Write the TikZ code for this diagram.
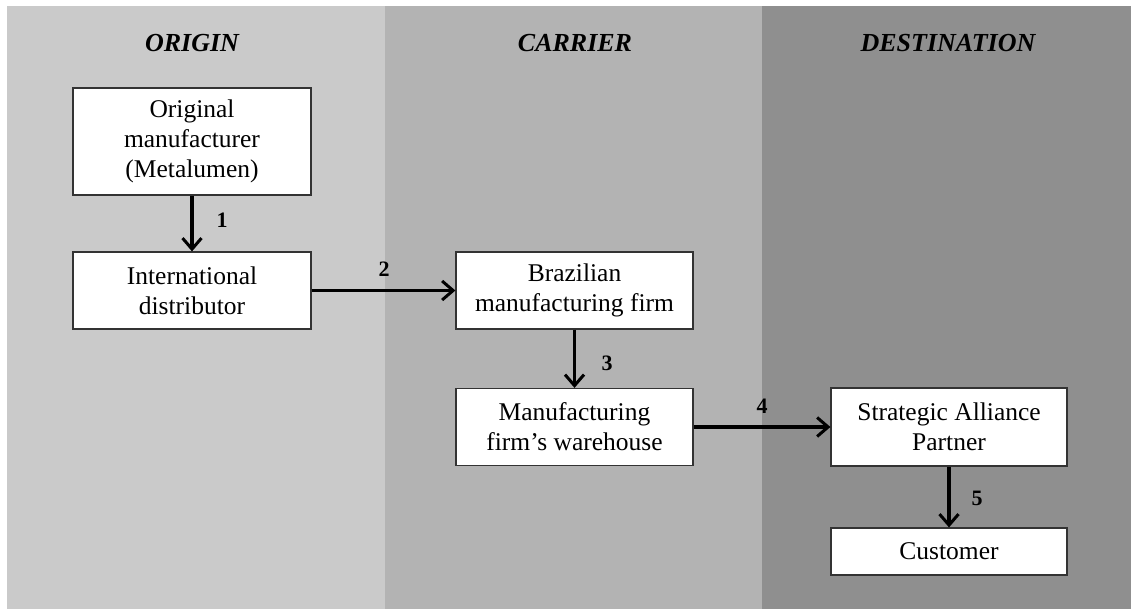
\documentclass[tikz,border=0pt]{standalone}
\usepackage{fontspec}
\setmainfont{Liberation Serif}
\usetikzlibrary{arrows.meta}
\definecolor{orig}{HTML}{CACACA}
\definecolor{carr}{HTML}{B3B3B3}
\definecolor{dest}{HTML}{8F8F8F}
\definecolor{edge}{HTML}{333333}
\begin{document}
\begin{tikzpicture}[x=1pt,y=-1pt,
  box/.style={draw=edge,line width=1.2pt,fill=white,align=center,inner sep=0pt,
    font=\fontsize{25.5}{30}\selectfont},
  head/.style={font=\fontsize{26}{30}\selectfont\bfseries\itshape},
  num/.style={font=\fontsize{22}{26}\selectfont\bfseries},
  flow/.style={line width=3.4pt,-{Straight Barb[length=11pt,width=19pt,line width=3pt]}}]
\useasboundingbox (0,0) rectangle (1131,609);
\fill[white] (0,0) rectangle (1131,609);
\fill[orig] (7,6) rectangle (385,609);
\fill[carr] (385,6) rectangle (762,609);
\fill[dest] (762,6) rectangle (1131,609);
\node[head] (h1) at (192,43) {ORIGIN};
\node[head] (h2) at (575,43) {CARRIER};
\node[head] (h3) at (948,43) {DESTINATION};
\node[box,minimum width=238pt,minimum height=107pt] (om) at (192,141.5) {Original\\manufacturer\\(Metalumen)};
\node[box,minimum width=238pt,minimum height=77pt] (id) at (192,290.5) {International\\distributor};
\node[box,minimum width=237pt,minimum height=77pt] (bf) at (574.5,290.5) {Brazilian\\manufacturing firm};
\node[box,minimum width=237pt,minimum height=77pt] (mw) at (574.5,427) {Manufacturing\\firm’s warehouse};
\node[box,minimum width=236pt,minimum height=78pt] (sa) at (949,427) {Strategic Alliance\\Partner};
\node[box,minimum width=236pt,minimum height=47pt] (cu) at (949,551.5) {Customer};
\draw[flow] (om) -- (id);
\draw[flow] (id) -- (bf);
\draw[flow] (bf) -- (mw);
\draw[flow] (mw) -- (sa);
\draw[flow] (sa) -- (cu);
\node[num] (n1) at (222,220) {1};
\node[num] (n2) at (384,269) {2};
\node[num] (n3) at (607,363) {3};
\node[num] (n4) at (762,406) {4};
\node[num] (n5) at (977,498) {5};
\end{tikzpicture}
\end{document}
